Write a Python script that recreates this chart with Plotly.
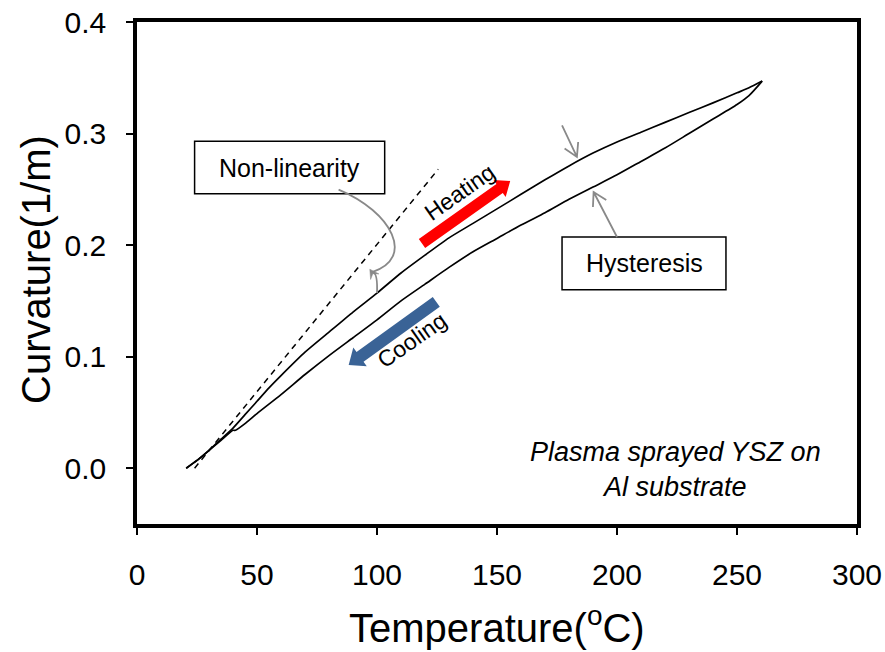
import math
import plotly.graph_objects as go

# ---- data ----
heat_T = [20.5, 25, 30, 35, 40, 45, 50, 55, 60, 70, 80, 90, 100, 110, 120, 130, 140,
          150, 160, 170, 180, 190, 200, 210, 220, 230, 240, 250, 255, 260.5]
heat_K = [0.000, 0.007, 0.016, 0.026, 0.036, 0.048, 0.060, 0.072, 0.083, 0.104, 0.122,
          0.140, 0.157, 0.175, 0.191, 0.2065, 0.2195, 0.2325, 0.2455, 0.2585, 0.271, 0.2825,
          0.2925, 0.3012, 0.3100, 0.3188, 0.3275, 0.3365, 0.341, 0.347]

cool_T = [260.5, 255, 250, 240, 230, 220, 210, 200, 190, 180, 170, 160, 150, 140, 130,
          120, 110, 100, 90, 80, 70, 60, 50, 45, 41, 40, 35, 30, 25, 20.5]
cool_K = [0.347, 0.334, 0.326, 0.313, 0.300, 0.287, 0.275, 0.263, 0.252, 0.241, 0.229,
          0.218, 0.206, 0.194, 0.180, 0.165, 0.150, 0.133, 0.117, 0.101, 0.084, 0.066,
          0.049, 0.040, 0.034, 0.034, 0.025, 0.016, 0.007, 0.000]

linear_T = [24, 125.5]
linear_K = [0.0, 0.268]

x_ticks = [0, 50, 100, 150, 200, 250, 300]
y_ticks = [0.0, 0.1, 0.2, 0.3, 0.4]

X_TITLE = "Temperature(<sup>o</sup>C)"
Y_TITLE = "Curvature(1/m)"

X_RANGE = [0, 300]
Y_RANGE = [-0.05, 0.4]

FONT = "Liberation Sans, Arial, sans-serif"
GREY = "#898989"

W, H = 885, 652
M = dict(l=137, r=28, t=22, b=128)
PW = W - M["l"] - M["r"]
PH = H - M["t"] - M["b"]
SX = PW / (X_RANGE[1] - X_RANGE[0])   # px per data unit
SY = PH / (Y_RANGE[1] - Y_RANGE[0])


def to_px(x, y):
    return x * SX, -y * SY


def to_data(px, py):
    return px / SX, -py / SY


def arrow_path(tail, tip, half_w, head_len, head_half):
    """Block arrow polygon (in data coordinates) from tail to tip."""
    tx, ty = to_px(*tail)
    px, py = to_px(*tip)
    L = math.hypot(px - tx, py - ty)
    ux, uy = (px - tx) / L, (py - ty) / L
    nx, ny = -uy, ux
    bx, by = px - ux * head_len, py - uy * head_len
    pts = [(tx + nx * half_w, ty + ny * half_w), (bx + nx * half_w, by + ny * half_w),
           (bx + nx * head_half, by + ny * head_half), (px, py),
           (bx - nx * head_half, by - ny * head_half), (bx - nx * half_w, by - ny * half_w),
           (tx - nx * half_w, ty - ny * half_w)]
    d = [to_data(a, b) for a, b in pts]
    return "M " + " L ".join(f"{a:.4f},{b:.5f}" for a, b in d) + " Z"


def vee_path(tail, tip, arm_len, arm_angle_deg, with_shaft=True):
    """Open V arrow (line plus two arms) in data coordinates."""
    tx, ty = to_px(*tail)
    px, py = to_px(*tip)
    L = math.hypot(px - tx, py - ty)
    ux, uy = (tx - px) / L, (ty - py) / L
    a = math.radians(arm_angle_deg)
    arms = []
    for s in (1, -1):
        c, si = math.cos(s * a), math.sin(s * a)
        vx, vy = ux * c - uy * si, ux * si + uy * c
        arms.append(to_data(px + vx * arm_len, py + vy * arm_len))
    tip_d = to_data(px, py)
    tail_d = to_data(tx, ty)
    p = f"M {arms[0][0]:.4f},{arms[0][1]:.5f} L {tip_d[0]:.4f},{tip_d[1]:.5f} " \
        f"L {arms[1][0]:.4f},{arms[1][1]:.5f}"
    if with_shaft:
        p += f" M {tail_d[0]:.4f},{tail_d[1]:.5f} L {tip_d[0]:.4f},{tip_d[1]:.5f}"
    return p


def tri_path(tail, tip, length, half):
    tx, ty = to_px(*tail)
    px, py = to_px(*tip)
    L = math.hypot(px - tx, py - ty)
    ux, uy = (px - tx) / L, (py - ty) / L
    nx, ny = -uy, ux
    bx, by = px - ux * length, py - uy * length
    mx, my = px - ux * length * 0.6, py - uy * length * 0.6
    pts = [(px, py), (bx + nx * half, by + ny * half), (mx, my), (bx - nx * half, by - ny * half)]
    d = [to_data(a, b) for a, b in pts]
    return "M " + " L ".join(f"{a:.4f},{b:.5f}" for a, b in d) + " Z"


fig = go.Figure()
fig.add_trace(go.Scatter(x=heat_T, y=heat_K, mode="lines",
                         line=dict(color="black", width=1.7, shape="spline", smoothing=0.6),
                         showlegend=False))
fig.add_trace(go.Scatter(x=cool_T, y=cool_K, mode="lines",
                         line=dict(color="black", width=1.7, shape="spline", smoothing=0.6),
                         showlegend=False))
fig.add_trace(go.Scatter(x=linear_T, y=linear_K, mode="lines",
                         line=dict(color="black", width=1.5, dash="6px,5px"),
                         showlegend=False))

shapes = [
    dict(type="rect", xref="x", yref="y", x0=24, x1=103.2, y0=0.246, y1=0.293,
         line=dict(color="black", width=1.5), fillcolor="white", layer="above"),
    dict(type="rect", xref="x", yref="y", x0=177.1, x1=245.4, y0=0.160, y1=0.2073,
         line=dict(color="black", width=1.5), fillcolor="white", layer="above"),
    # non-linearity connector
    dict(type="path", xref="x", yref="y",
         path="M 84.0,0.2498 C 106.4,0.2296 115.96,0.1883 98.04,0.1758",
         line=dict(color=GREY, width=1.8)),
    dict(type="path", xref="x", yref="y",
         path="M 98.6,0.1752 Q 100.3,0.1735 100.0,0.157",
         line=dict(color=GREY, width=1.8)),
    dict(type="path", xref="x", yref="y", path=tri_path((99.9, 0.1690), (97.0, 0.1784), 9, 5),
         line=dict(color=GREY, width=0.5), fillcolor=GREY),
    # red heating / blue cooling block arrows
    dict(type="path", xref="x", yref="y",
         path=arrow_path((118.75, 0.2014), (155.5, 0.2575), 5.5, 13, 10.5),
         line=dict(width=0), fillcolor="#FF0000"),
    dict(type="path", xref="x", yref="y",
         path=arrow_path((124.7, 0.1492), (88.2, 0.0925), 6, 14, 11.5),
         line=dict(width=0), fillcolor="#3A6396"),
    # grey hysteresis pointers
    dict(type="path", xref="x", yref="y",
         path=vee_path((200.0, 0.2073), (190.25, 0.2476), 15, 30),
         line=dict(color=GREY, width=1.8)),
    dict(type="path", xref="x", yref="y",
         path=vee_path((177.1, 0.3073), (183.3, 0.279), 15, 30),
         line=dict(color=GREY, width=1.8)),
]

annotations = [
    dict(x=63.6, y=0.2695, xref="x", yref="y", text="Non-linearity", showarrow=False,
         font=dict(family=FONT, size=25, color="black")),
    dict(x=211.25, y=0.1837, xref="x", yref="y", text="Hysteresis", showarrow=False,
         font=dict(family=FONT, size=25, color="black")),
    dict(x=224.5, y=-0.0015, xref="x", yref="y",
         text="<i>Plasma sprayed YSZ on</i><br><i>Al substrate</i>", showarrow=False,
         font=dict(family=FONT, size=27, color="black"), align="center"),
    dict(x=134.5, y=0.2475, xref="x", yref="y", text="Heating", showarrow=False,
         textangle=-35, font=dict(family=FONT, size=23, color="black")),
    dict(x=114.6, y=0.1147, xref="x", yref="y", text="Cooling", showarrow=False,
         textangle=-35, font=dict(family=FONT, size=23, color="black")),
    # axis titles
    dict(x=0.5, y=(H - M["b"] - 625) / PH, xref="paper", yref="paper", text=X_TITLE,
         showarrow=False, xanchor="center", yanchor="middle",
         font=dict(family=FONT, size=40, color="black")),
    dict(x=(36 - M["l"]) / PW, y=0.5 + (M["t"] + PH / 2 - 270) / PH, xref="paper",
         yref="paper", text=Y_TITLE, textangle=-90, showarrow=False,
         xanchor="center", yanchor="middle",
         font=dict(family=FONT, size=40, color="black")),
]

fig.update_layout(
    width=W, height=H,
    margin=dict(l=M["l"], r=M["r"], t=M["t"], b=M["b"], autoexpand=False),
    paper_bgcolor="white", plot_bgcolor="white",
    font=dict(family=FONT, color="black"),
    shapes=shapes, annotations=annotations,
    xaxis=dict(range=X_RANGE, tickvals=x_ticks, ticktext=[str(v) for v in x_ticks],
               automargin=False,
               showgrid=False, zeroline=False, showline=True, linecolor="black",
               linewidth=3.5, mirror=True, ticks="outside", ticklen=7, tickwidth=1.5,
               tickcolor="black", tickfont=dict(family=FONT, size=30),
               ticklabelstandoff=14),
    yaxis=dict(range=Y_RANGE, tickvals=y_ticks,
               ticktext=[f"{v:.1f}" for v in y_ticks],
               automargin=False,
               showgrid=False, zeroline=False, showline=True, linecolor="black",
               linewidth=3.5, mirror=True, ticks="outside", ticklen=7, tickwidth=1.5,
               tickcolor="black", tickfont=dict(family=FONT, size=30),
               ticklabelstandoff=14),
)

fig.write_html("out.html")
